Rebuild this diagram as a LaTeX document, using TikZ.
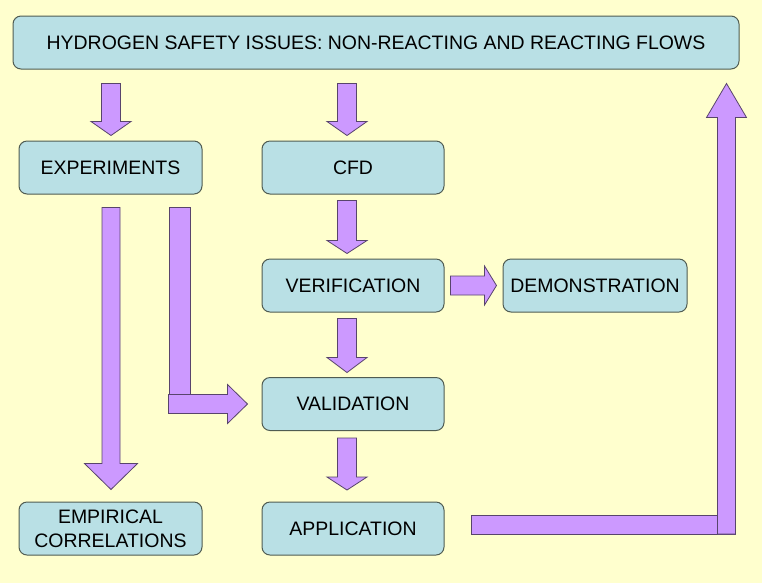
\documentclass[tikz,border=0pt]{standalone}
\usepackage{fontspec}
\setmainfont{Liberation Sans}
\usetikzlibrary{calc}

\definecolor{bgyellow}{RGB}{255,255,206}
\definecolor{boxfill}{RGB}{185,224,229}
\definecolor{boxline}{RGB}{80,92,82}
\definecolor{arrowfill}{RGB}{204,153,255}
\definecolor{arrowline}{RGB}{88,68,108}

\tikzset{every picture/.style={line width=0.75pt}}
\tikzset{
  box/.style={draw=boxline, fill=boxfill, rounded corners=6pt, inner sep=0pt,
    minimum width=136.5pt, minimum height=39.75pt, align=center, text=black,
    font=\fontsize{14.6}{18}\selectfont},
  blkarrow/.style={draw=arrowline, fill=arrowfill, line width=0.6pt}
}

% down block arrow: top centre, length, shaft half width, head half width, head length
\newcommand{\downblk}[5]{%
  \draw[blkarrow] (#1) ++(-#3,0) -- ++(0,{#2-#5}) -- ++({#3-#4},0) -- ++(#4,#5)
    -- ++(#4,-#5) -- ++({#3-#4},0) -- ++(0,{#5-#2}) -- cycle;}

\begin{document}
\begin{tikzpicture}[x=0.75pt,y=0.75pt,yscale=-1,xscale=1]
%background
\fill[bgyellow] (0,0) rectangle (762,583);
\useasboundingbox (0,0) rectangle (762,583);

% Boxes
\node[box, minimum width=544.5pt] (top) at (376,42.5) {HYDROGEN SAFETY ISSUES: NON-REACTING AND REACTING FLOWS};
\node[box, minimum width=137.25pt] (exp) at (110.5,167.5) {EXPERIMENTS};
\node[box] (cfd) at (353,167.5) {CFD};
\node[box] (verif) at (353,285.5) {VERIFICATION};
\node[box, minimum width=138pt] (demo) at (595,285.5) {DEMONSTRATION};
\node[box] (valid) at (353,404) {VALIDATION};
\node[box] (appl) at (353,528.5) {APPLICATION};
\node[box, minimum width=137.25pt] (emp) at (110.5,528.5) {EMPIRICAL\\CORRELATIONS};

% Down arrows
\downblk{$(top.south -| exp.north)+(0.5,14)$}{52}{9.5}{20}{14}
\downblk{$(top.south -| cfd.north)+(-6,14)$}{52}{9.5}{20}{14}
\downblk{$(cfd.south)+(-6,6)$}{53}{9.5}{20}{13}
\downblk{$(verif.south)+(-6,6)$}{54}{9.5}{20}{15}
\downblk{$(valid.south)+(-6,7)$}{52}{9.5}{20}{13}
\downblk{$(exp.south)+(0.5,13)$}{282}{9}{26.5}{26}

% Verification to demonstration
\draw[blkarrow] ($(demo.west)+(-6,0)$) -- ++(-12,-19.5) -- ++(0,10) -- ++(-34,0)
  -- ++(0,19) -- ++(34,0) -- ++(0,10) -- cycle;

% Experiments to validation (bent)
\draw[blkarrow] ($(exp.south)+(58.5,13)$) rectangle ++(21,206);
\draw[blkarrow] ($(valid.west)+(-14,0)$) -- ++(-20,-19.5) -- ++(0,10) -- ++(-59,0)
  -- ++(0,19) -- ++(59,0) -- ++(0,10) -- cycle;

% Application back to top
\coordinate (retcorner) at ($(appl.east)+(291,5.5)$);
\coordinate (rettip) at ($(top.south east)+(-13,14)$);
\draw[blkarrow] ($(appl.east)+(27,-13.5)$) rectangle (retcorner);
\draw[blkarrow] (rettip) -- ++(20,34) -- ++(-11,0) -- (retcorner) -- ++(-18,0)
  -- ($(rettip)+(-9,34)$) -- ++(-11,0) -- cycle;

\end{tikzpicture}
\end{document}
